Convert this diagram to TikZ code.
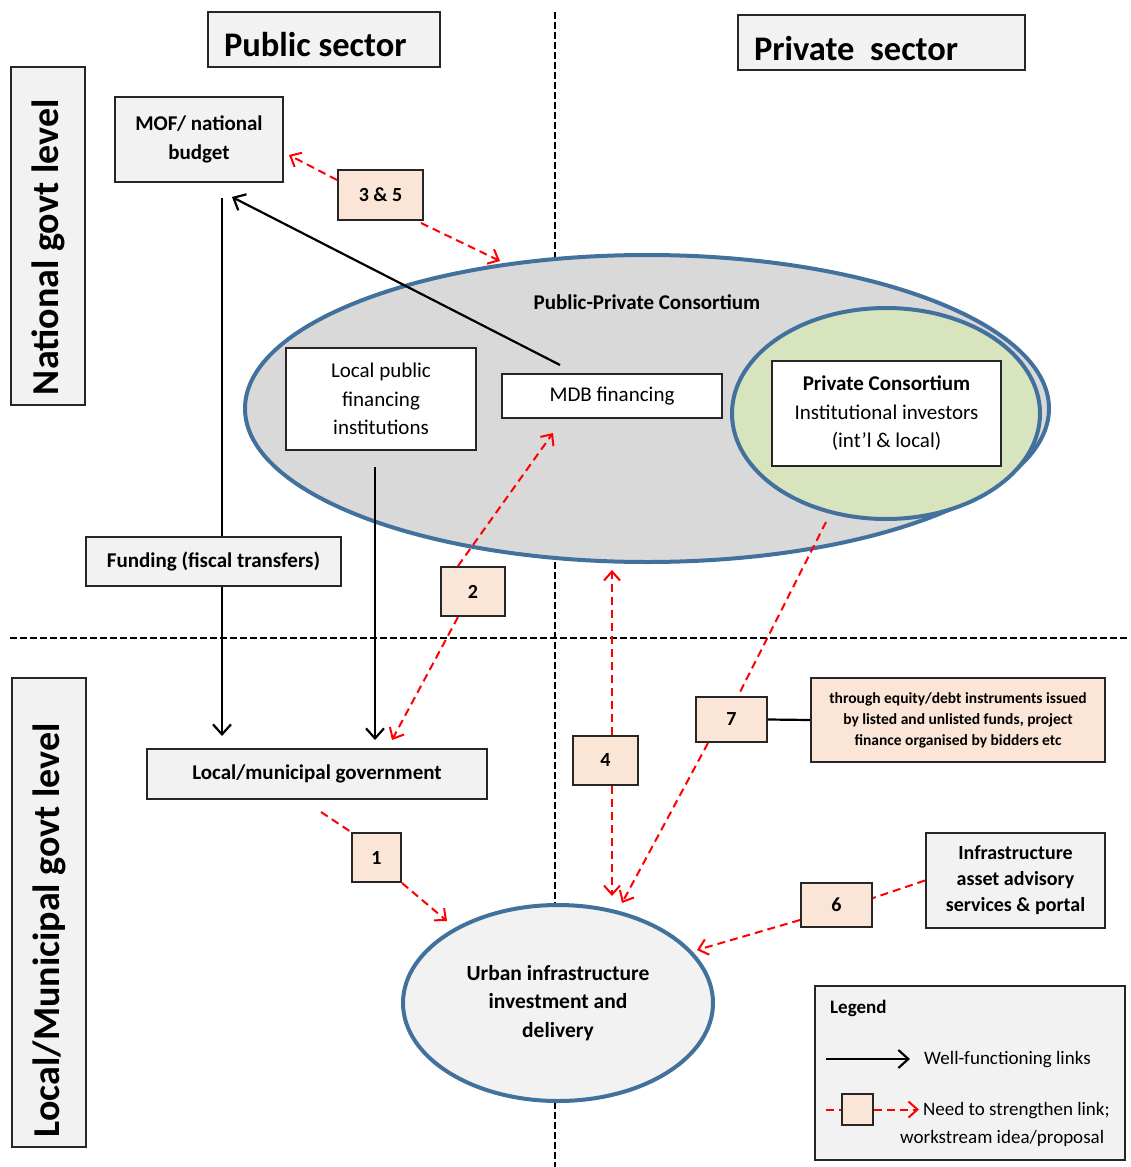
\documentclass[tikz,border=0pt]{standalone}
\usepackage{fontspec}
\setmainfont{Carlito}
\usetikzlibrary{arrows.meta,shapes.geometric,calc}
\definecolor{boxgray}{HTML}{F2F2F2}
\definecolor{ellgray}{HTML}{D9D9D9}
\definecolor{ellblue}{HTML}{41719C}
\definecolor{ellgreen}{HTML}{D7E4BD}
\definecolor{peach}{HTML}{FBE5D6}
\definecolor{linkred}{HTML}{FF0000}
\begin{document}
\begin{tikzpicture}[x=1pt,y=-1pt,
  box/.style={draw=black!85, line width=2pt, fill=boxgray, inner sep=0pt, align=center,
    font=\fontsize{21}{29}\selectfont\bfseries},
  wbox/.style={box, fill=white, font=\fontsize{21}{28.5}\selectfont},
  numbox/.style={box, fill=peach, font=\fontsize{20}{24}\selectfont\bfseries},
  hdr/.style={box, inner xsep=16pt, align=flush left, font=\fontsize{34.5}{40}\selectfont\bfseries},
  vlab/.style={box, rotate=90, inner xsep=10pt, align=flush left, font=\fontsize{38}{44}\selectfont\bfseries},
  ell/.style={ellipse, draw=ellblue, line width=4pt, inner sep=0pt, align=center},
  divider/.style={draw=black, line width=2.6pt, dash pattern=on 7pt off 3pt},
  blk/.style={draw=black, line width=2.2pt, -{Straight Barb[length=10pt,width=18pt,line width=2.2pt]}},
  blkline/.style={draw=black, line width=2.2pt},
  redl/.style={draw=linkred, line width=2pt, dash pattern=on 8pt off 5pt},
  reda/.style={redl, -{Straight Barb[length=9pt,width=16pt,line width=2pt]}},
  lgtext/.style={inner sep=0pt, anchor=west, font=\fontsize{19}{24}\selectfont}
]
\useasboundingbox (0,0) rectangle (1130,1167);

% dividers
\coordinate (dv1) at (555,12);
\coordinate (dv2) at (555,1167);
\coordinate (dh1) at (10,638);
\coordinate (dh2) at (1130,638);
\draw[divider] (dv1) -- (dv2);
\draw[divider] (dh1) -- (dh2);

% headers
\node[hdr, text width=200pt, text height=44pt, text depth=11pt] (pub) at (324,39.5) {Public sector};
\node[hdr, text width=255pt, text height=45pt, text depth=10pt] (priv) at (881.5,42.5) {Private\ \ sector};
\node[vlab, text width=318pt, minimum height=74pt] (nat) at (48,236) {National govt level};
\node[vlab, text width=449pt, minimum height=74pt] (loc) at (49,912.5) {Local/Municipal govt level};

% ellipses
\node[ell, fill=ellgray, minimum width=804pt, minimum height=307pt] (ppc) at (647,408.5) {};
\node[font=\fontsize{21}{28}\selectfont\bfseries, inner sep=0pt] (ppctext) at (647,302) {Public-Private Consortium};
\node[ell, fill=ellgreen, minimum width=308pt, minimum height=211pt] (green) at (886,413.5) {};
\node[ell, fill=boxgray, minimum width=310pt, minimum height=196pt,
      font=\fontsize{21.5}{28.5}\selectfont\bfseries] (urban) at (558,1003) {Urban infrastructure\\investment and\\delivery};

% boxes
\node[box, minimum width=168pt, minimum height=85pt] (mof) at (199,139.5) {MOF/ national\\budget};
\node[numbox, minimum width=85pt, minimum height=50pt] (b35) at (380.5,195) {3 \& 5};
\node[wbox, minimum width=190pt, minimum height=102pt] (lpfi) at (381,399) {Local public\\financing\\institutions};
\node[wbox, minimum width=220pt, minimum height=44pt] (mdb) at (612,396) {MDB financing};
\node[wbox, minimum width=229pt, minimum height=105pt] (pc) at (886.5,413.5) {\textbf{Private Consortium}\\Institutional investors\\(int’l \& local)};
\node[box, minimum width=255pt, minimum height=49pt] (fund) at (213.5,561.5) {Funding (fiscal transfers)};
\node[box, minimum width=340pt, minimum height=50pt] (lmg) at (317,774) {Local/municipal government};
\node[numbox, minimum width=64pt, minimum height=49pt] (b2) at (473,591.5) {2};
\node[numbox, minimum width=65pt, minimum height=49pt] (b4) at (605.5,760.5) {4};
\node[numbox, minimum width=71pt, minimum height=45pt] (b7) at (731.5,719.5) {7};
\node[box, fill=peach, minimum width=294pt, minimum height=84pt,
      font=\fontsize{15.5}{21}\selectfont\bfseries] (note) at (958,720)
      {through equity/debt instruments issued\\by listed and unlisted funds, project\\finance organised by bidders etc};
\node[numbox, minimum width=71pt, minimum height=44pt] (b6) at (836.5,905) {6};
\node[box, minimum width=179pt, minimum height=95pt, font=\fontsize{20}{26}\selectfont\bfseries] (infra) at (1015.5,880.5) {Infrastructure\\asset advisory\\services \& portal};
\node[numbox, minimum width=49pt, minimum height=49pt] (b1) at (376.5,857.5) {1};

% black connectors
\draw[blk] ([xshift=-52pt,yshift=8pt]mdb.north) -- ([xshift=33pt,yshift=-14pt]mof.south);
\draw[blkline] ([xshift=23pt,yshift=-15pt]mof.south) -- ([xshift=8.5pt]fund.north);
\draw[blk] ([xshift=8.5pt]fund.south) -- ([xshift=-95pt,yshift=12pt]lmg.north);
\draw[blk] ([xshift=-6pt,yshift=-16pt]lpfi.south) -- ([xshift=58pt,yshift=8pt]lmg.north);
\draw[blkline] (b7.east) -- (note.west);

% red connectors
\draw[reda] ([yshift=15pt]b35.west) -- ([xshift=5pt,yshift=-15.5pt]mof.east);
\draw[reda] ([xshift=-3pt,yshift=-2pt]b35.south east) -- ([xshift=-147pt,yshift=-8pt]ppc.north);
\draw[reda] ([xshift=-15pt]b2.north) -- ([xshift=-59pt,yshift=-14pt]mdb.south);
\draw[reda] ([xshift=-15pt]b2.south) -- ([xshift=75pt,yshift=8pt]lmg.north);
\draw[reda] ([xshift=6.5pt]b4.north) -- ([xshift=-35pt,yshift=-6pt]ppc.south);
\draw[reda] ([xshift=6.5pt]b4.south) -- ([xshift=54pt,yshift=7pt]urban.north);
\draw[redl] ([xshift=-60pt,yshift=-1pt]green.south) -- ([xshift=6.5pt]b7.north);
\draw[reda] ([xshift=-23.5pt]b7.south) -- ([xshift=64pt]urban.north);
\draw[redl] (infra.west) -- ([yshift=7pt]b6.east);
\draw[reda] ([yshift=-15pt]b6.west) -- ([xshift=139pt,yshift=53pt]urban.center);
\draw[redl] ([xshift=4pt,yshift=-12pt]lmg.south) -- (b1.north west);
\draw[reda] (b1.south east) -- ([xshift=-111pt,yshift=82pt]urban.center);

% legend
\node[box, minimum width=310pt, minimum height=174pt] (legend) at (970,1073) {};
\node[lgtext, font=\fontsize{19}{24}\selectfont\bfseries] (lgtitle) at (830,1008) {Legend};
\coordinate (lga1) at (826,1059);
\coordinate (lga2) at (910,1059);
\draw[blk] (lga1) -- (lga2);
\node[lgtext] (lgwell) at (924,1060) {Well-functioning links};
\node[numbox, minimum width=31pt, minimum height=31pt] (lgbox) at (857.5,1109.5) {};
\coordinate (lgr1) at (826,1109.5);
\coordinate (lgr2) at (919,1109.5);
\draw[redl] (lgr1) -- (lgbox.west);
\draw[reda] (lgbox.east) -- (lgr2);
\node[lgtext] (lgneed) at (923,1111) {Need to strengthen link;};
\node[lgtext] (lgwork) at (900,1138) {workstream idea/proposal};
\end{tikzpicture}
\end{document}
